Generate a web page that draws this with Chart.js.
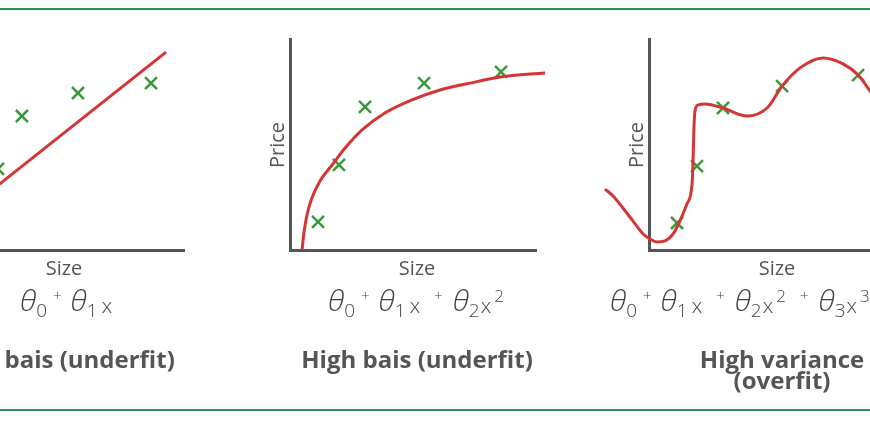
<!DOCTYPE html>
<html>
<head>
<meta charset="utf-8">
<script src="https://cdn.jsdelivr.net/npm/chart.js@4.4.0/dist/chart.umd.min.js"></script>
<style>
body{margin:0;width:870px;height:423px;overflow:hidden;background:#fff;position:relative;font-family:"Open Sans",sans-serif;color:#555}
.rule{position:absolute;left:0;width:870px;height:2px;background:#2f8d5c}
canvas{position:absolute;top:0}
.size{position:absolute;top:255px;font-size:20px;line-height:26px;transform:translateX(-50%)}
.price{position:absolute;top:145px;font-size:20px;line-height:24px;transform:translate(-50%,-50%) rotate(-90deg)}
.formula{position:absolute;top:282px;font-size:30px;line-height:36px;font-weight:300;white-space:nowrap;color:#444}
.formula i{font-style:italic}
.formula sub{font-size:19px;vertical-align:-6px;line-height:0}
.formula .pl{font-size:15px;vertical-align:10px;line-height:0}
.formula .x{font-size:21px;line-height:0;vertical-align:-2px}
.formula sup{font-size:17px;vertical-align:9px;line-height:0}
.title{position:absolute;top:348px;font-size:24px;line-height:21px;font-weight:700;text-align:center;white-space:nowrap;transform:translateX(-50%)}
</style>
</head>
<body>
<div class="rule" style="top:8px"></div>
<div class="rule" style="top:409px"></div>

<canvas id="p1" width="360" height="423" style="left:-122px"></canvas>
<canvas id="p2" width="360" height="423" style="left:230px"></canvas>
<canvas id="p3" width="360" height="423" style="left:589px"></canvas>

<div class="size" style="left:64px">Size</div>
<div class="size" style="left:417px">Size</div>
<div class="size" style="left:777px">Size</div>
<div class="price" style="left:277px">Price</div>
<div class="price" style="left:636px">Price</div>

<div class="formula" style="left:20px"><i>θ</i><sub>0</sub><span class="pl" style="margin-left:6px">+</span><i style="margin-left:9px">θ</i><sub>1</sub><span class="x" style="margin-left:4px">x</span></div>
<div class="formula" style="left:328px"><i>θ</i><sub>0</sub><span class="pl" style="margin-left:6px">+</span><i style="margin-left:9px">θ</i><sub>1</sub><span class="x" style="margin-left:4px">x</span><span class="pl" style="margin-left:14px">+</span><i style="margin-left:10px">θ</i><sub>2</sub><span class="x" style="margin-left:1px">x</span><sup style="margin-left:3px">2</sup></div>
<div class="formula" style="left:610px"><i>θ</i><sub>0</sub><span class="pl" style="margin-left:6px">+</span><i style="margin-left:9px">θ</i><sub>1</sub><span class="x" style="margin-left:4px">x</span><span class="pl" style="margin-left:14px">+</span><i style="margin-left:10px">θ</i><sub>2</sub><span class="x" style="margin-left:1px">x</span><sup style="margin-left:3px">2</sup><span class="pl" style="margin-left:14px">+</span><i style="margin-left:10px">θ</i><sub>3</sub><span class="x" style="margin-left:1px">x</span><sup style="margin-left:3px">3</sup></div>

<div class="title" style="left:59px">High bais (underfit)</div>
<div class="title" style="left:417px">High bais (underfit)</div>
<div class="title" style="left:782px">High variance<br>(overfit)</div>

<script>
// panel 1 - straight line fit
var p1PointsX = [2.44, 3.41, 5.69, 8.66];
var p1PointsY = [3.84, 6.35, 7.44, 7.91];
var p1FitX = [1.5, 9.27];
var p1FitY = [2.2, 9.38];

// panel 2 - quadratic fit
var p2PointsX = [1.14, 1.99, 3.05, 5.45, 8.58];
var p2PointsY = [1.33, 4.03, 6.78, 7.91, 8.44];
var p2FitX = [0.49, 0.57, 0.69, 0.89, 1.22, 1.71, 2.24, 2.93, 3.86, 4.96, 6.10, 7.32, 8.54, 10.37];
var p2FitY = [0, 0.85, 1.66, 2.46, 3.27, 4.03, 4.83, 5.69, 6.49, 7.11, 7.58, 7.91, 8.20, 8.39];

// panel 3 - high order fit
var p3PointsX = [1.14, 1.95, 3.01, 5.41, 8.50];
var p3PointsY = [1.28, 3.98, 6.73, 7.77, 8.29];
var p3FitX = [-1.79, -1.46, -1.06, -0.65, -0.24, 0.12, 0.33, 0.65, 0.98, 1.22, 1.54, 1.75, 1.79, 1.83, 1.87, 1.99, 2.28, 3.01, 3.98, 4.80, 5.41, 6.14, 7.07, 7.89, 8.50, 8.98, 9.59];
var p3FitY = [2.89, 2.56, 1.99, 1.37, 0.76, 0.47, 0.38, 0.43, 0.76, 1.28, 2.18, 3.13, 4.22, 5.88, 6.59, 6.87, 6.92, 6.73, 6.35, 6.73, 7.77, 8.63, 9.10, 8.82, 8.29, 7.54, 6.49];

var red = "#d43535";
var green = "#3a9a3a";
var axisColor = "#555";

function pairs(xs, ys){
  var out = [];
  for (var i = 0; i < xs.length; i++){
    out.push({x: xs[i], y: ys[i]});
  }
  return out;
}

// x range is set after the data limits so the curve is not cut at the axis ends
function xAxis(){
  return {
    type: 'linear', bounds: 'data',
    afterDataLimits: function(scale){ scale.min = 0; scale.max = 10; },
    grid: {display: false, drawTicks: false},
    ticks: {display: false},
    border: {display: true, color: axisColor, width: 3}
  };
}

function yAxis(){
  return {
    type: 'linear', min: 0, max: 10,
    grid: {display: false, drawTicks: false},
    ticks: {display: false},
    border: {display: true, color: axisColor, width: 3}
  };
}

function makePanel(id, px, py, fx, fy){
  new Chart(document.getElementById(id), {
    type: 'scatter',
    data: {
      datasets: [
        {
          data: pairs(fx, fy),
          showLine: true,
          borderColor: red,
          borderWidth: 3,
          pointRadius: 0,
          cubicInterpolationMode: 'monotone',
          clip: false
        },
        {
          data: pairs(px, py),
          showLine: false,
          pointStyle: 'crossRot',
          pointRadius: 8.5,
          borderColor: green,
          backgroundColor: green,
          pointBorderWidth: 2.5,
          clip: false
        }
      ]
    },
    options: {
      responsive: false,
      animation: false,
      events: [],
      layout: {padding: {left: 60, right: 54, top: 39, bottom: 173}},
      plugins: {legend: {display: false}, tooltip: {enabled: false}},
      scales: {x: xAxis(), y: yAxis()}
    }
  });
}

makePanel("p1", p1PointsX, p1PointsY, p1FitX, p1FitY);
makePanel("p2", p2PointsX, p2PointsY, p2FitX, p2FitY);
makePanel("p3", p3PointsX, p3PointsY, p3FitX, p3FitY);
</script>
</body>
</html>
